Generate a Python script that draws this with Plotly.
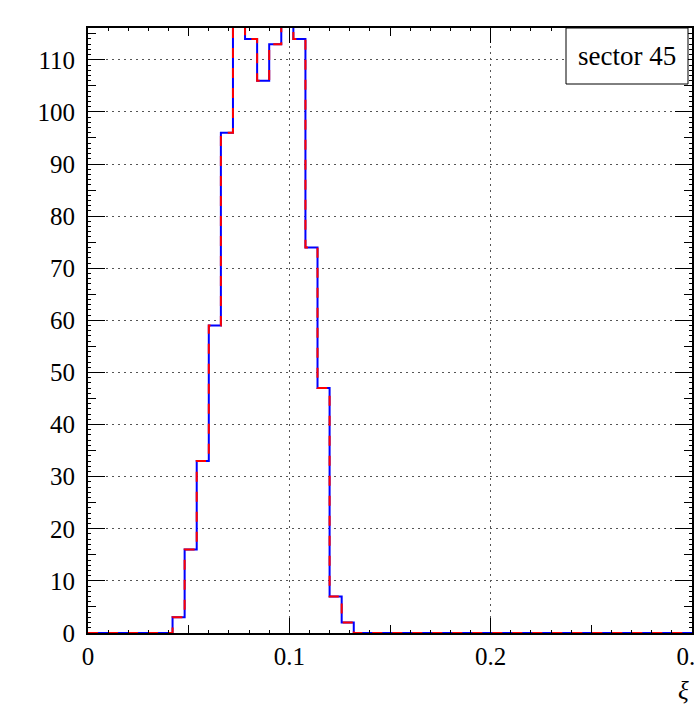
import numpy as np
import plotly.graph_objects as go

# ---- data ----
bin_lo = 0.0
bin_hi = 0.3
n_bins = 50
counts = [0, 0, 0, 0, 0, 0, 0, 3, 16, 33,
          59, 96, 120, 114, 106, 113, 118, 114, 74, 47,
          7, 2, 0, 0, 0, 0, 0, 0, 0, 0,
          0, 0, 0, 0, 0, 0, 0, 0, 0, 0,
          0, 0, 0, 0, 0, 0, 0, 0, 0, 0]
x_ticks = [0, 0.1, 0.2, 0.3]
x_ticktext = ["0", "0.1", "0.2", "0.3"]
y_ticks = [0, 10, 20, 30, 40, 50, 60, 70, 80, 90, 100, 110]
label_text = "sector 45"
x_title = "ξ"

edges = np.linspace(bin_lo, bin_hi, n_bins + 1)
xs = list(edges)
ys = list(counts) + [counts[-1]]

FONT = "Liberation Serif"
W, H = 694, 706
ML, MR, MT, MB = 88, 2, 28, 73
YMAX = 116.1

fig = go.Figure()
fig.add_trace(go.Scatter(x=xs, y=ys, mode="lines", line=dict(shape="hv", color="#0000ff", width=2),
                         hoverinfo="skip", showlegend=False))
fig.add_trace(go.Scatter(x=xs, y=ys, mode="lines", line=dict(shape="hv", color="#ff0000", width=2, dash="10px,10px"),
                         hoverinfo="skip", showlegend=False))
# invisible trace for fine-tick overlay axes
fig.add_trace(go.Scatter(x=xs, y=ys, mode="lines", line=dict(color="rgba(0,0,0,0)", width=0),
                         hoverinfo="skip", showlegend=False, xaxis="x2", yaxis="y2"))

axis_common = dict(showline=True, linecolor="black", linewidth=2, mirror="ticks",
                   ticks="inside", tickcolor="black", tickwidth=1, zeroline=False,
                   showgrid=True, gridcolor="#555555", gridwidth=1, griddash="1.5px,4.5px",
                   tickfont=dict(family=FONT, size=25, color="black"), automargin=False,
                   ticklabeloverflow="allow")

fig.update_layout(
    width=W, height=H,
    margin=dict(l=ML, r=MR, t=MT, b=MB),
    paper_bgcolor="white", plot_bgcolor="white",
    xaxis=dict(range=[bin_lo, bin_hi], tickvals=x_ticks, ticktext=x_ticktext, ticklen=15,
               minor=dict(dtick=0.05, tick0=0, ticklen=8, ticks="inside", tickcolor="black", showgrid=False),
               **axis_common),
    yaxis=dict(range=[0, YMAX], tickvals=y_ticks, ticklen=17, ticklabelstandoff=6,
               minor=dict(dtick=5, tick0=0, ticklen=8, ticks="inside", tickcolor="black", showgrid=False),
               **axis_common),
    xaxis2=dict(range=[bin_lo, bin_hi], overlaying="x", anchor="y2", dtick=0.01, tick0=0,
                ticks="inside", ticklen=3, tickcolor="black", showticklabels=False,
                showgrid=False, zeroline=False, showline=False, mirror="ticks"),
    yaxis2=dict(range=[0, YMAX], overlaying="y", anchor="x2", dtick=1, tick0=0,
                ticks="inside", ticklen=3, tickcolor="black", showticklabels=False,
                showgrid=False, zeroline=False, showline=False, mirror="ticks"),
    showlegend=False,
)

pw = W - ML - MR
ph = H - MT - MB
bx0, bx1, by0, by1 = 566, 688, 28, 84
fig.add_shape(type="rect", xref="paper", yref="paper",
              x0=(bx0 - ML) / pw, x1=(bx1 - ML) / pw,
              y0=1 - (by1 - MT) / ph, y1=1.0,
              line=dict(color="black", width=1), fillcolor="white", layer="above")
fig.add_annotation(xref="paper", yref="paper", x=((bx0 + bx1) / 2 - ML) / pw,
                   y=1 - ((by0 + by1) / 2 - MT) / ph, text=label_text, showarrow=False,
                   font=dict(family=FONT, size=27, color="black"), xanchor="center", yanchor="middle")
fig.add_annotation(xref="paper", yref="paper", x=(683 - ML) / pw, y=-(690 - (MT + ph)) / ph,
                   text="<i>" + x_title + "</i>", showarrow=False,
                   font=dict(family=FONT, size=25, color="black"), xanchor="center", yanchor="middle")

fig.write_html("out.html", config={"displayModeBar": False},
               post_script="document.body.style.margin='0';document.body.style.overflow='hidden';")
